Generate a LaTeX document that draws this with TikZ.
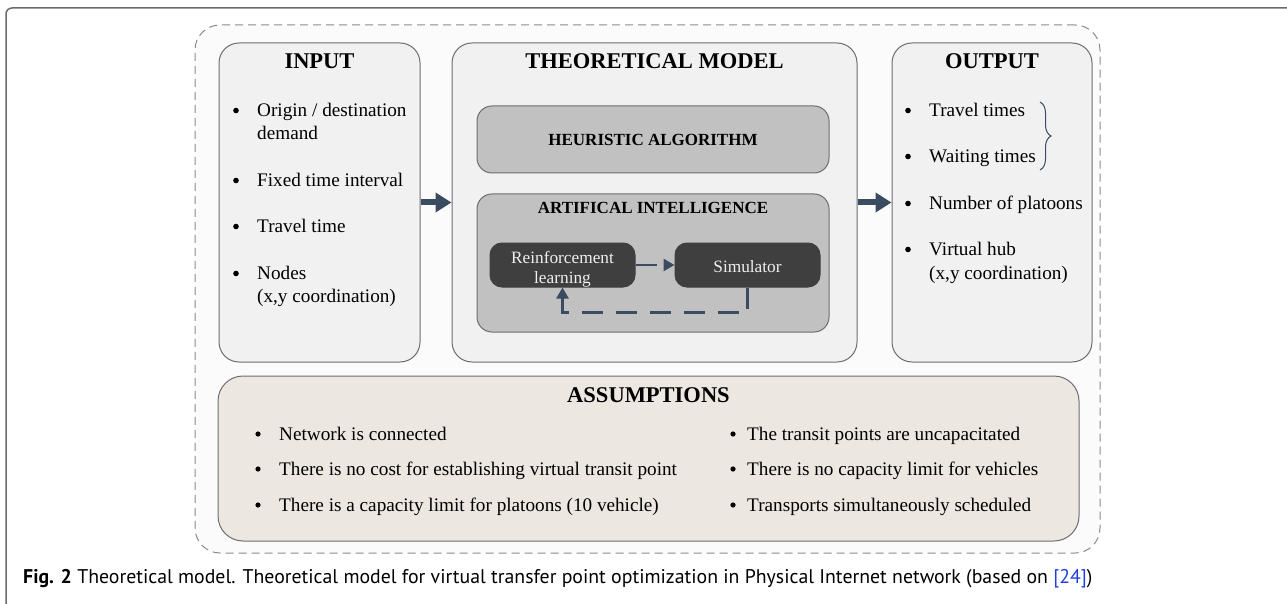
\documentclass[tikz,border=0pt]{standalone}
\usepackage{fontspec}
\setmainfont{Liberation Serif}
\newfontfamily\capfont{PT Sans}
\usetikzlibrary{arrows.meta,decorations.pathreplacing}
\definecolor{framegray}{HTML}{6A6A6A}
\definecolor{dashgray}{HTML}{8A8A8A}
\definecolor{outerfill}{HTML}{FBFBFB}
\definecolor{lightfill}{HTML}{F1F1F1}
\definecolor{boxdraw}{HTML}{6E6E6E}
\definecolor{midfill}{HTML}{C1C1C1}
\definecolor{darkfill}{HTML}{3F3F3F}
\definecolor{darktext}{HTML}{EFEFEF}
\definecolor{arrowblue}{HTML}{3B4B60}
\definecolor{beigefill}{HTML}{EDE7E1}
\definecolor{linkblue}{HTML}{1F3FE0}
\tikzset{
  lightbox/.style={draw=boxdraw, fill=lightfill, line width=1pt, rounded corners=20pt, inner sep=0pt},
  midbox/.style={draw=boxdraw, fill=midfill, line width=1pt, rounded corners=15pt, inner sep=0pt},
  darkbox/.style={draw=darkfill, fill=darkfill, line width=1pt, rounded corners=12pt, inner sep=0pt},
  beigebox/.style={draw=boxdraw, fill=beigefill, line width=1pt, rounded corners=25pt, inner sep=0pt},
  title/.style={anchor=base, inner sep=0pt, font=\fontsize{22.5}{26}\selectfont\bfseries},
  subtitle/.style={anchor=base, inner sep=0pt, font=\fontsize{17}{20}\selectfont\bfseries},
  txt/.style={anchor=base west, inner sep=0pt, font=\rmfamily\fontsize{19.2}{23}\selectfont},
  bul/.style={circle, fill=black, inner sep=0pt, minimum size=5.6pt},
  darktxt/.style={anchor=base, inner sep=0pt, text=darktext, font=\fontsize{17.3}{20}\selectfont},
  bigarrow/.style={draw=arrowblue, line width=6pt, -{Triangle[length=16pt,width=19pt]}},
  dasharrow/.style={draw=arrowblue, line width=2.6pt, dash pattern=on 21pt off 13pt, -{Triangle[length=11pt,width=12pt]}},
}
\begin{document}
\begin{tikzpicture}[x=1pt,y=-1pt]
\useasboundingbox (0,0) rectangle (1287,604);
% outer frame
\draw[framegray, line width=1.5pt, rounded corners=6pt] (6,604) -- (6,8) -- (1287,8);
% dashed container
\node[draw=dashgray, fill=outerfill, line width=1pt, dash pattern=on 8pt off 5pt, rounded corners=25pt,
      minimum width=905pt, minimum height=528pt, inner sep=0pt] (outer) at (647.5,289) {};
% main boxes
\node[lightbox, minimum width=201pt, minimum height=319pt] (inp) at (319.5,202.5) {};
\node[lightbox, minimum width=405pt, minimum height=319pt] (theo) at (654.5,202.5) {};
\node[lightbox, minimum width=200pt, minimum height=319pt] (out) at (992,202.5) {};
\node[beigebox, minimum width=861pt, minimum height=165pt] (ass) at (648.5,458.5) {};
% inner boxes
\node[midbox, minimum width=352pt, minimum height=67pt] (heur) at (653,139.5) {};
\node[midbox, minimum width=352pt, minimum height=138pt] (ai) at (653,263) {};
\node[darkbox, minimum width=145pt, minimum height=44pt] (rl) at (562.5,265) {};
\node[darkbox, minimum width=145pt, minimum height=44pt] (sim) at (747.5,265) {};
% titles
\node[title] (tin) at (319.5,68.5) {INPUT};
\node[title] (ttheo) at (654.5,68.5) {THEORETICAL MODEL};
\node[title] (tout) at (992,68.5) {OUTPUT};
\node[title] (tass) at (648.5,402) {ASSUMPTIONS};
\node[subtitle] (theur) at (653,146) {HEURISTIC ALGORITHM};
\node[subtitle] (tai) at (653,214) {ARTIFICAL INTELLIGENCE};
\node[darktxt] (trl1) at (562.5,263) {Reinforcement};
\node[darktxt] (trl2) at (562.5,283) {learning};
\node[darktxt] (tsim) at (747.5,272) {Simulator};
% input list
\node[bul] (ib1) at (236,110.5) {};
\node[txt] (i1) at (257,116.5) {Origin / destination};
\node[txt] (i1b) at (257,139.5) {demand};
\node[bul] (ib2) at (236,180.5) {};
\node[txt] (i2) at (257,186.5) {Fixed time interval};
\node[bul] (ib3) at (236,226.5) {};
\node[txt] (i3) at (257,232.5) {Travel time};
\node[bul] (ib4) at (236,273.5) {};
\node[txt] (i4) at (257,279.5) {Nodes};
\node[txt] (i4b) at (257,302.5) {(x,y coordination)};
% output list
\node[bul] (ob1) at (908,110.5) {};
\node[txt] (o1) at (929,116.5) {Travel times};
\node[bul] (ob2) at (908,156.5) {};
\node[txt] (o2) at (929,162.5) {Waiting times};
\node[bul] (ob3) at (908,203.5) {};
\node[txt] (o3) at (929,209.5) {Number of platoons};
\node[bul] (ob4) at (908,249.5) {};
\node[txt] (o4) at (929,255.5) {Virtual hub};
\node[txt] (o4b) at (929,279.5) {(x,y coordination)};
\coordinate (brtop) at (1040,102);
\coordinate (brbot) at (1040,170);
\draw[arrowblue, line width=1pt, decorate, decoration={brace, amplitude=11pt, aspect=0.5}] (brtop) -- (brbot);
% assumptions list
\node[bul, minimum size=5.2pt] (ab1) at (258,434) {};
\node[txt] (a1) at (279,440) {Network is connected};
\node[bul, minimum size=5.2pt] (ab2) at (258,469) {};
\node[txt] (a2) at (279,475) {There is no cost for establishing virtual transit point};
\node[bul, minimum size=5.2pt] (ab3) at (258,505) {};
\node[txt] (a3) at (279,511) {There is a capacity limit for platoons (10 vehicle)};
\node[bul, minimum size=5.2pt] (ab4) at (733,434) {};
\node[txt] (a4) at (747,440) {The transit points are uncapacitated};
\node[bul, minimum size=5.2pt] (ab5) at (733,469) {};
\node[txt] (a5) at (747,475) {There is no capacity limit for vehicles};
\node[bul, minimum size=5.2pt] (ab6) at (733,505) {};
\node[txt] (a6) at (747,511) {Transports simultaneously scheduled};
% arrows
\draw[bigarrow] (inp.east) -- (theo.west);
\draw[bigarrow] (theo.east) -- (out.west);
\draw[dasharrow] (rl.east) -- (sim.west);
\draw[dasharrow] (sim.south) -- ++(0,25) -| (rl.south);
% caption
\node[anchor=base west, inner sep=0pt, font=\capfont\fontsize{19.8}{23}\selectfont] (cap) at (23,583)
  {\textbf{Fig. 2} Theoretical model. Theoretical model for virtual transfer point optimization in Physical Internet network (based on {\color{linkblue}[24]})};
\end{tikzpicture}
\end{document}
